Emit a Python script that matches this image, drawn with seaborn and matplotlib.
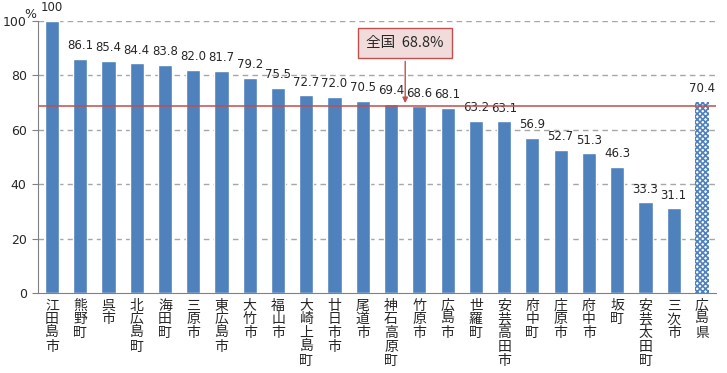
import numpy as np
import pandas as pd
import matplotlib
matplotlib.use('Agg')
import matplotlib.pyplot as plt
import seaborn as sns

towns = ['江田島市', '熊野町', '呉市', '北広島町', '海田町', '三原市', '東広島市', '大竹市',
         '福山市', '大崎上島町', '廿日市市', '尾道市', '神石高原町', '竹原市', '広島市', '世羅町',
         '安芸高田市', '府中町', '庄原市', '府中市', '坂町', '安芸太田町', '三次市', '広島県']
rates = [100, 86.1, 85.4, 84.4, 83.8, 82.0, 81.7, 79.2, 75.5, 72.7, 72.0, 70.5, 69.4,
         68.6, 68.1, 63.2, 63.1, 56.9, 52.7, 51.3, 46.3, 33.3, 31.1, 70.4]
national = 68.8
yticks = [0, 20, 40, 60, 80, 100]

sns.set_style('white')
plt.rcParams['font.family'] = ['Noto Sans CJK JP', 'DejaVu Sans']
plt.rcParams['hatch.linewidth'] = 1.2

df = pd.DataFrame({'town': towns, 'rate': rates})

fig = plt.figure(figsize=(7.27, 3.73), dpi=100)
ax = fig.add_axes([0.052, 0.2145, 0.933, 0.729])

sns.barplot(data=df, x='town', y='rate', color='#4f81bd', saturation=1, width=0.5, ax=ax)
last = ax.patches[-1]
last.set_facecolor('white')
last.set_edgecolor('#4f81bd')
last.set_hatch('xxxxxx')
last.set_linewidth(0)

for i, v in enumerate(rates):
    ax.text(i, v + 2.5, f'{v:.1f}' if v < 100 else '100', ha='center', va='bottom', fontsize=8.5,
            family='DejaVu Sans')

ax.set_ylim(0, 100)
ax.set_xlim(-0.5, len(towns) - 0.5)
ax.set_yticks(yticks)
ax.set_yticklabels([str(t) for t in yticks], fontsize=9, family='DejaVu Sans')
for t in yticks[1:]:
    ax.axhline(t, color='#a6a6a6', lw=1, ls=(0, (4, 3)), zorder=0)
ax.axhline(national, color='#c0504d', lw=1.1, zorder=3)

ax.set_xticks(np.arange(len(towns)))
ax.set_xticklabels(['\n'.join(t) for t in towns], fontsize=10, va='top', linespacing=0.98)
ax.tick_params(axis='x', length=0, pad=4)
ax.set_xticks(np.arange(len(towns) + 1) - 0.5, minor=True)
ax.tick_params(axis='x', which='minor', length=5, color='#808080', direction='out')
ax.tick_params(axis='y', length=4, color='#808080', direction='out', left=True, pad=4)
ax.set_xlabel('')
ax.set_ylabel('')
for s in ['top', 'right']:
    ax.spines[s].set_visible(False)
for s in ['left', 'bottom']:
    ax.spines[s].set_color('#808080')

ax.annotate('全国  68.8%', xy=(12.5, national), xytext=(12.5, 91.9), ha='center', va='center',
            fontsize=10.5, bbox=dict(boxstyle='square,pad=0.55', fc='#f2dcdb', ec='#c0504d', lw=1),
            arrowprops=dict(arrowstyle='-|>', color='#c0504d', lw=1, mutation_scale=8))

fig.text(0.041, 0.978, '%', ha='center', va='top', fontsize=9, family='DejaVu Sans')

fig.savefig('out.png', dpi=100)
